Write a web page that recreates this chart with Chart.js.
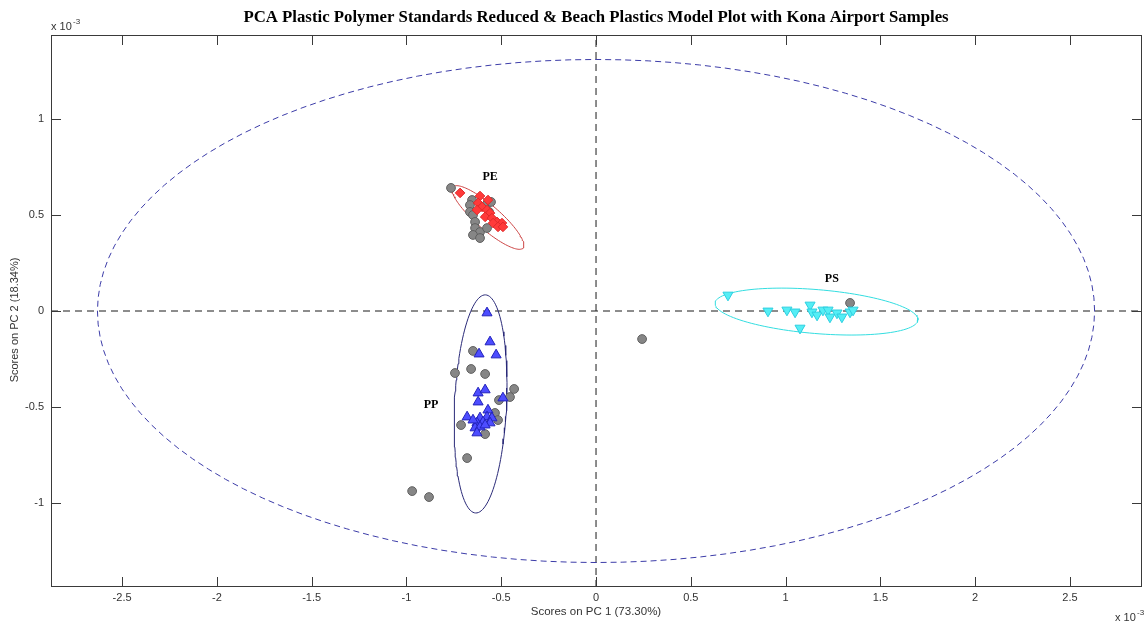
<!DOCTYPE html>
<html>
<head>
<meta charset="utf-8">
<script src="https://cdn.jsdelivr.net/npm/chart.js@4.4.1/dist/chart.umd.min.js"></script>
<style>
  html, body { margin: 0; padding: 0; background: #fff; }
  #wrap { width: 1144px; height: 624px; }
</style>
</head>
<body>
<div id="wrap"><canvas id="pca" width="1144" height="624"></canvas></div>
<script>
// valores en unidades de x 10^-3
const x_ticks = [-2.5, -2, -1.5, -1, -0.5, 0, 0.5, 1, 1.5, 2, 2.5];
const y_ticks = [-1, -0.5, 0, 0.5, 1];
const x_range = [-2.875, 2.88];
const y_range = [-1.4375, 1.4375];

// estandares PE (rombos rojos)
const pe_x = [-0.717, -0.612, -0.570, -0.622, -0.601, -0.575, -0.559, -0.585, -0.549, -0.522, -0.543, -0.496, -0.517, -0.491, -0.628];
const pe_y = [0.615, 0.599, 0.578, 0.563, 0.542, 0.526, 0.510, 0.490, 0.484, 0.464, 0.458, 0.458, 0.438, 0.438, 0.526];

// estandares PP (triangulos azules)
const pp_x = [-0.575, -0.559, -0.617, -0.527, -0.622, -0.585, -0.622, -0.491, -0.680, -0.570, -0.612, -0.575, -0.549, -0.628, -0.596, -0.559, -0.638, -0.612, -0.628, -0.585, -0.649];
const pp_y = [-0.010, -0.161, -0.224, -0.229, -0.427, -0.411, -0.474, -0.453, -0.552, -0.516, -0.557, -0.552, -0.557, -0.583, -0.578, -0.583, -0.609, -0.604, -0.635, -0.594, -0.568];

// estandares PS (triangulos cian invertidos)
const ps_x = [0.696, 0.907, 1.007, 1.050, 1.129, 1.139, 1.166, 1.197, 1.224, 1.234, 1.271, 1.297, 1.340, 1.356, 1.076];
const ps_y = [0.083, 0.000, 0.005, -0.005, 0.031, -0.005, -0.021, 0.005, 0.005, -0.031, -0.010, -0.031, -0.005, 0.005, -0.089];

// muestras Kona Airport (circulos grises)
const kona_x = [-0.765, -0.654, -0.665, -0.665, -0.649, -0.638, -0.638, -0.612, -0.649, -0.612, -0.575, -0.580, -0.554, -0.564,
  -0.649, -0.744, -0.659, -0.585, -0.432, -0.454, -0.512, -0.712, -0.533, -0.517, -0.585, -0.680, -0.970, -0.881,
  0.243, 1.340];
const kona_y = [0.641, 0.578, 0.552, 0.516, 0.500, 0.464, 0.432, 0.411, 0.396, 0.380, 0.432, 0.552, 0.568, 0.516,
  -0.208, -0.323, -0.302, -0.328, -0.406, -0.448, -0.464, -0.594, -0.531, -0.568, -0.641, -0.766, -0.938, -0.969,
  -0.146, 0.042];

// elipses de confianza: centro y dos semiejes (vectores)
const ellipse_cx = [0, -0.570, -0.609, 1.163];
const ellipse_cy = [0, 0.487, -0.484, -0.003];
const ellipse_ux = [2.63, 0.185, 0.026, 0.535];
const ellipse_uy = [0, -0.159, 0.568, -0.044];
const ellipse_vx = [0, 0.0417, 0.137, -0.0097];
const ellipse_vy = [1.31, 0.047, -0.006, -0.114];

const group_labels = ['PE', 'PP', 'PS'];
const label_x = [-0.559, -0.870, 1.244];
const label_y = [0.698, -0.490, 0.167];

function ellipse_points(i) {
  const pts = [];
  for (let k = 0; k <= 120; k++) {
    const t = k / 120 * 2 * Math.PI;
    pts.push({
      x: ellipse_cx[i] + ellipse_ux[i] * Math.cos(t) + ellipse_vx[i] * Math.sin(t),
      y: ellipse_cy[i] + ellipse_uy[i] * Math.cos(t) + ellipse_vy[i] * Math.sin(t)
    });
  }
  return pts;
}

function to_points(xs, ys) {
  return xs.map((x, i) => ({ x: x, y: ys[i] }));
}

function line_set(data, color, dash, order) {
  return {
    type: 'scatter', data: data, showLine: true, pointRadius: 0, borderColor: color,
    borderWidth: 1, borderDash: dash, fill: false, order: order, tension: 0
  };
}

const decorations = {
  id: 'decorations',
  afterDraw(chart) {
    const ctx = chart.ctx;
    const a = chart.chartArea;
    const sx = chart.scales.x, sy = chart.scales.y;
    ctx.save();
    // marco y marcas hacia dentro
    ctx.strokeStyle = '#3a3a3a';
    ctx.lineWidth = 1;
    ctx.setLineDash([]);
    ctx.strokeRect(a.left + 0.5, a.top + 0.5, a.right - a.left - 1, a.bottom - a.top - 1);
    ctx.beginPath();
    x_ticks.forEach(v => {
      const px = Math.round(sx.getPixelForValue(v)) + 0.5;
      ctx.moveTo(px, a.bottom); ctx.lineTo(px, a.bottom - 10);
      ctx.moveTo(px, a.top); ctx.lineTo(px, a.top + 10);
    });
    y_ticks.forEach(v => {
      const py = Math.round(sy.getPixelForValue(v)) + 0.5;
      ctx.moveTo(a.left, py); ctx.lineTo(a.left + 10, py);
      ctx.moveTo(a.right, py); ctx.lineTo(a.right - 10, py);
    });
    ctx.stroke();

    // titulo
    ctx.fillStyle = '#000';
    ctx.font = 'bold 16.8px "Liberation Serif", "Times New Roman", serif';
    ctx.textAlign = 'center';
    ctx.textBaseline = 'middle';
    ctx.fillText('PCA Plastic Polymer Standards Reduced & Beach Plastics Model Plot with Kona Airport Samples', 596, 18);

    // etiquetas de grupos
    ctx.font = 'bold 12px "Liberation Serif", "Times New Roman", serif';
    group_labels.forEach((g, i) => {
      ctx.fillText(g, sx.getPixelForValue(label_x[i]), sy.getPixelForValue(label_y[i]));
    });

    // ejes
    ctx.fillStyle = '#333';
    ctx.font = '11.5px "Liberation Sans", Arial, sans-serif';
    ctx.fillText('Scores on PC 1 (73.30%)', 596, 612);
    ctx.save();
    ctx.font = '11px "Liberation Sans", Arial, sans-serif';
    ctx.translate(15, 320);
    ctx.rotate(-Math.PI / 2);
    ctx.fillText('Scores on PC 2 (18.34%)', 0, 0);
    ctx.restore();

    // exponentes
    ctx.textAlign = 'left';
    ctx.textBaseline = 'alphabetic';
    ctx.font = '11px "Liberation Sans", Arial, sans-serif';
    ctx.fillText('x 10', 51, 30);
    ctx.fillText('x 10', 1115, 621);
    ctx.font = '8px "Liberation Sans", Arial, sans-serif';
    ctx.fillText('-3', 73, 24);
    ctx.fillText('-3', 1137, 615);
    ctx.restore();
  }
};

new Chart(document.getElementById('pca'), {
  type: 'scatter',
  data: {
    datasets: [
      line_set([{ x: x_range[0], y: 0 }, { x: x_range[1], y: 0 }], '#1a1a1a', [7, 5], 8),
      line_set([{ x: 0, y: y_range[0] }, { x: 0, y: y_range[1] }], '#1a1a1a', [7, 5], 8),
      line_set(ellipse_points(0), '#3c3ca8', [6, 4], 7),
      line_set(ellipse_points(1), '#cc4444', [], 6),
      line_set(ellipse_points(2), '#2a2a78', [], 6),
      line_set(ellipse_points(3), '#33dde0', [], 6),
      {
        label: 'Kona Airport', data: to_points(kona_x, kona_y), order: 5,
        pointStyle: 'circle', pointRadius: 4.4, backgroundColor: '#868686', borderColor: '#606060', borderWidth: 1
      },
      {
        label: 'PE', data: to_points(pe_x, pe_y), order: 2,
        pointStyle: 'rectRot', pointRadius: 4.8, backgroundColor: '#ff3a3a', borderColor: '#e02a2a', borderWidth: 1
      },
      {
        label: 'PP', data: to_points(pp_x, pp_y), order: 2,
        pointStyle: 'triangle', pointRadius: 5.8, backgroundColor: '#4d4dff', borderColor: '#2222bb', borderWidth: 1
      },
      {
        label: 'PS', data: to_points(ps_x, ps_y), order: 2,
        pointStyle: 'triangle', rotation: 180, pointRadius: 5.8, backgroundColor: '#55eef5', borderColor: '#2ccfe0', borderWidth: 1
      }
    ]
  },
  options: {
    responsive: false,
    animation: false,
    layout: { autoPadding: false, padding: { top: 35, right: 2, left: 0, bottom: 0 } },
    plugins: { legend: { display: false }, tooltip: { enabled: false }, title: { display: false } },
    scales: {
      x: {
        type: 'linear', min: x_range[0], max: x_range[1],
        afterFit: scale => { scale.height = 37; scale.paddingLeft = 0; scale.paddingRight = 0; },
        afterBuildTicks: scale => { scale.ticks = x_ticks.map(v => ({ value: v })); },
        grid: { display: false, drawTicks: false },
        border: { display: false },
        ticks: {
          color: '#333', padding: 4, maxRotation: 0, autoSkip: false,
          font: { family: '"Liberation Sans", Arial, sans-serif', size: 11 },
          callback: v => String(v)
        }
      },
      y: {
        type: 'linear', min: y_range[0], max: y_range[1],
        afterFit: scale => { scale.width = 51; scale.paddingTop = 0; scale.paddingBottom = 0; },
        afterBuildTicks: scale => { scale.ticks = y_ticks.map(v => ({ value: v })); },
        grid: { display: false, drawTicks: false },
        border: { display: false },
        ticks: {
          color: '#333', padding: 7, autoSkip: false,
          font: { family: '"Liberation Sans", Arial, sans-serif', size: 11 },
          callback: v => String(v)
        }
      }
    }
  },
  plugins: [decorations]
});
</script>
</body>
</html>
